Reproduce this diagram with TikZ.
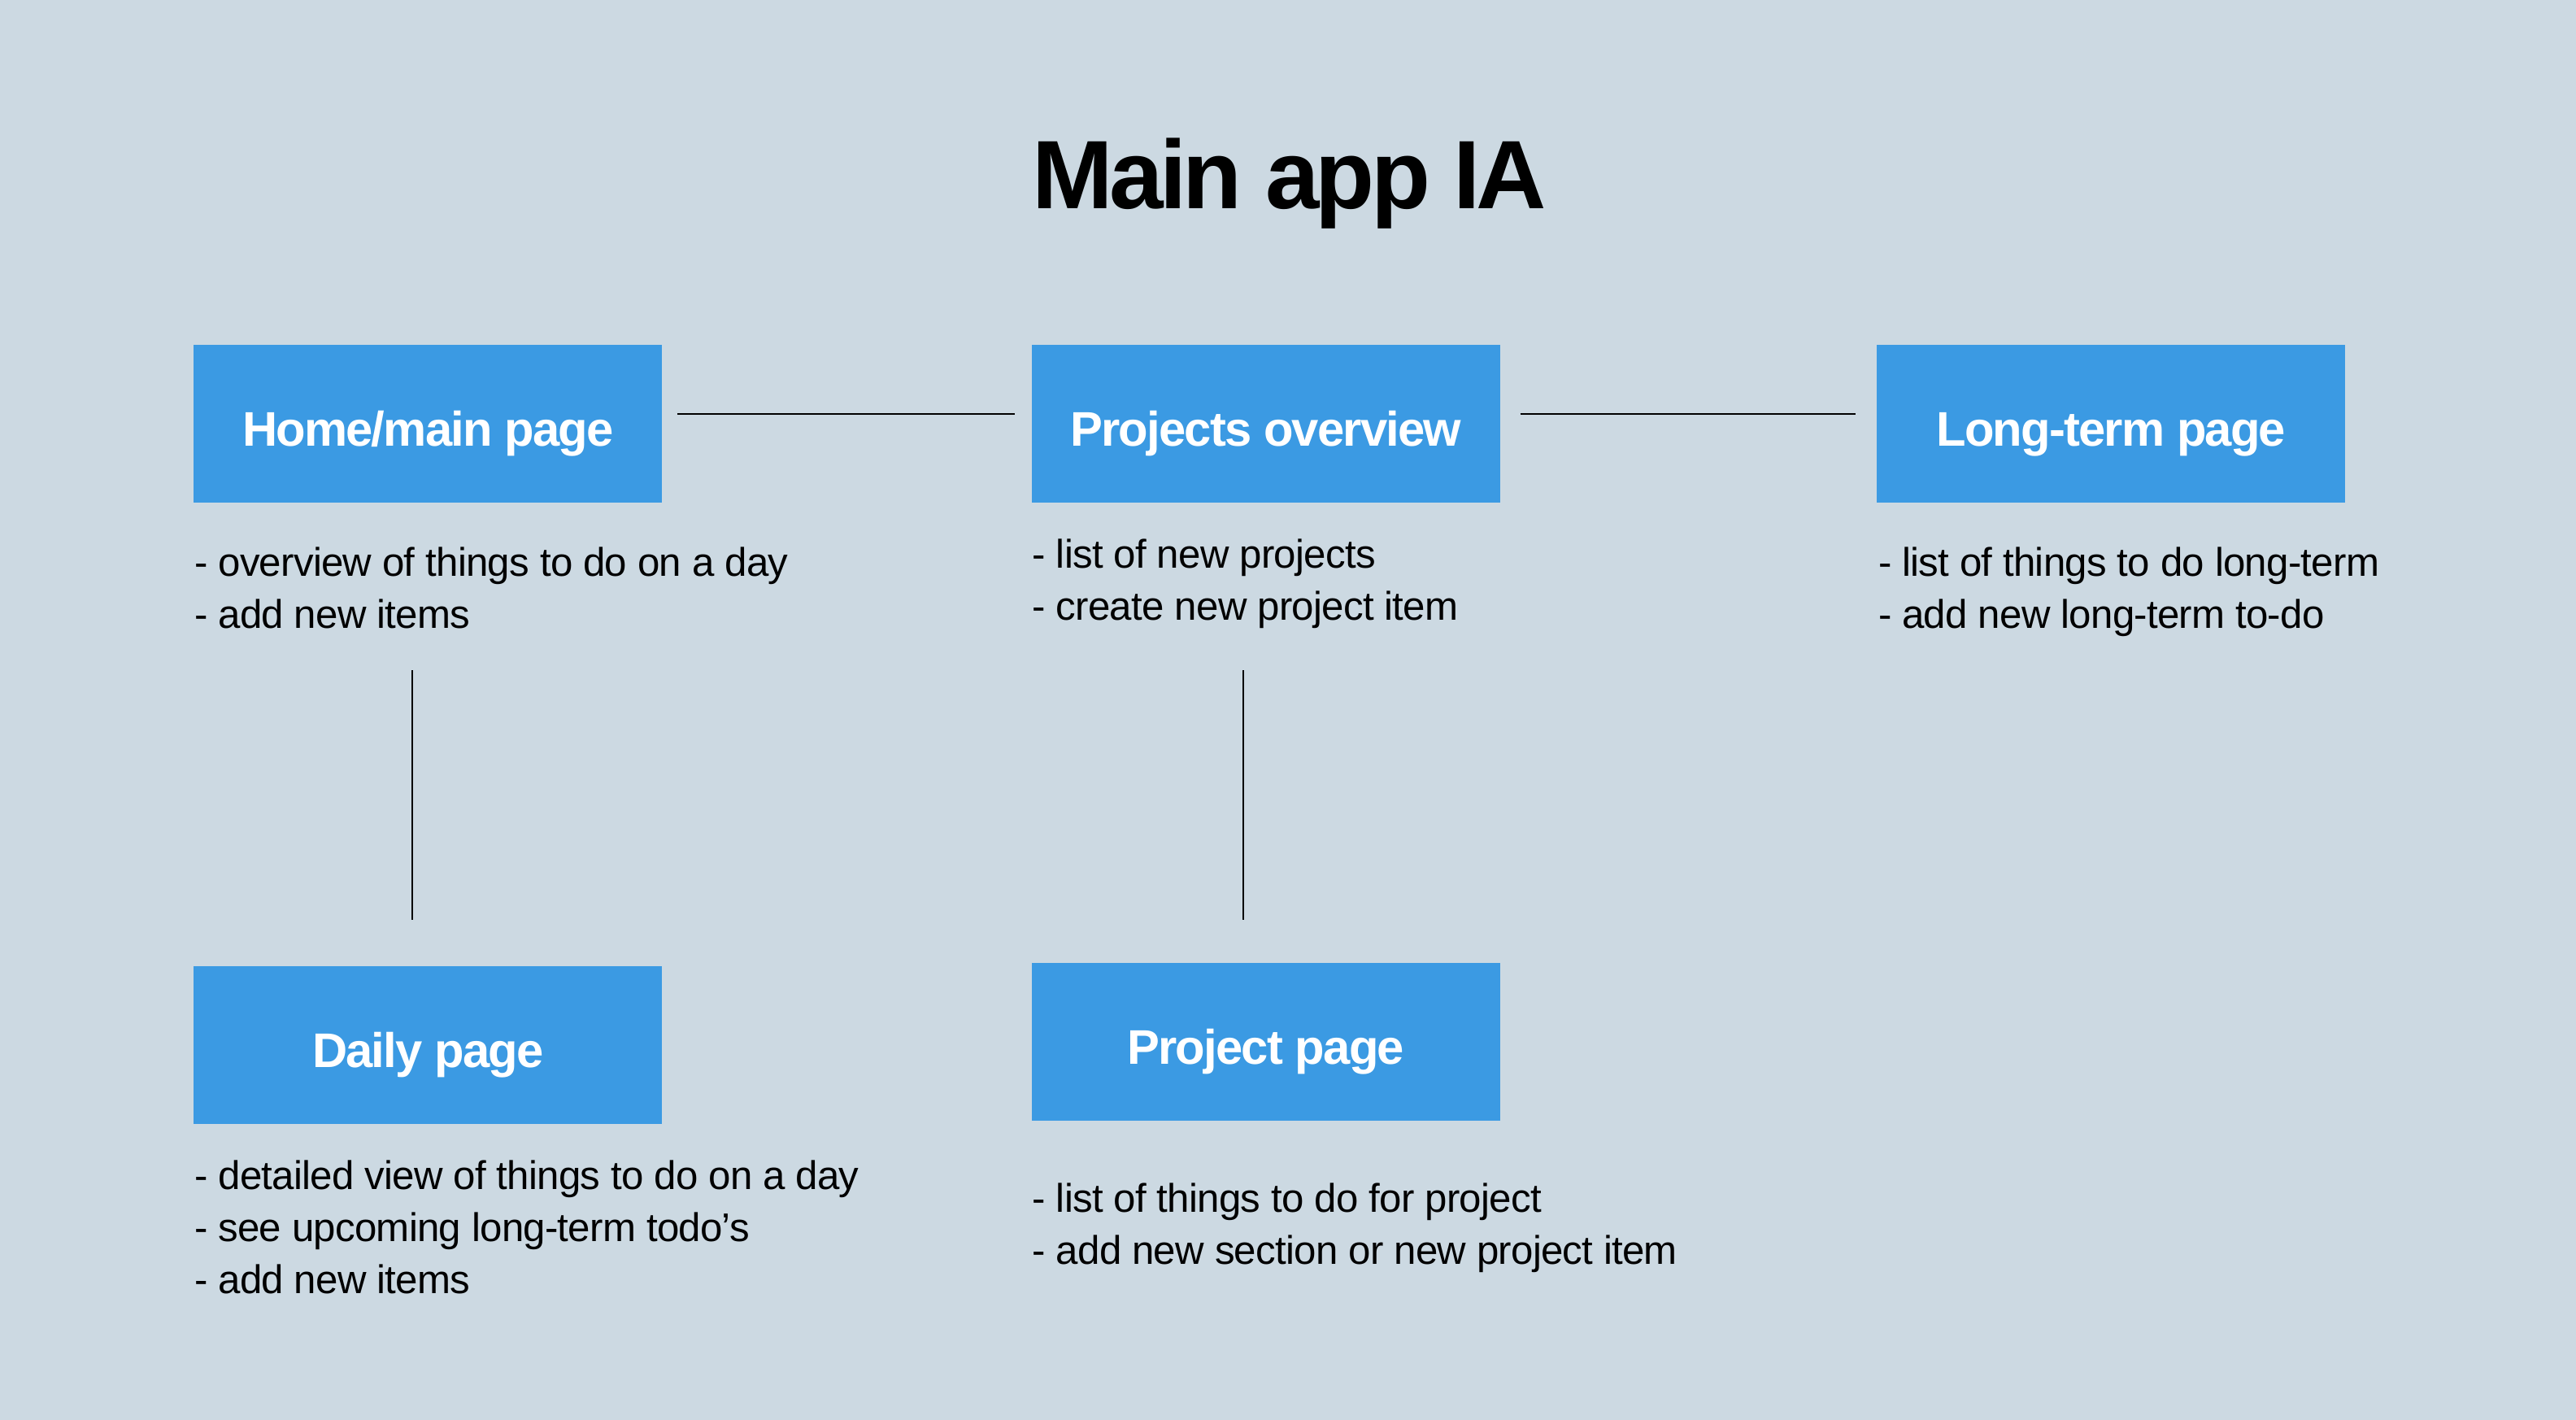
\documentclass[tikz,border=0pt]{standalone}
\usepackage{fontspec}
\setmainfont{Liberation Sans}
\newfontfamily\boxfont[LetterSpace=-3]{Liberation Sans}
\newfontfamily\titlefont[LetterSpace=-4]{Liberation Sans}
\newfontfamily\notefont[LetterSpace=-1.5]{Liberation Sans}
\usetikzlibrary{positioning,calc}
\definecolor{bgcolor}{RGB}{204,217,226}
\definecolor{boxblue}{RGB}{59,154,227}
\begin{document}
\begin{tikzpicture}[
  pagebox/.style={fill=boxblue, text=white, minimum width=5.758cm, minimum height=1.94cm, inner sep=0pt,
    text height=15.6pt, text depth=0pt, font=\boxfont\bfseries\fontsize{17}{20}\selectfont},
  notes/.style={anchor=base west, align=left, inner sep=0pt, font=\notefont\fontsize{14}{18.2}\selectfont},
  link/.style={draw=black, line width=0.6pt}
]
\fill[bgcolor] (0,0) rectangle (31.68,-17.46);
\node[anchor=base, inner sep=0pt, font=\titlefont\bfseries\fontsize{34}{40}\selectfont] (title) at (15.86,-2.566) {Main app IA};
% page boxes
\node[pagebox] (home) at (5.263,-5.213) {Home/main page};
\node[pagebox] (overview) at (15.567,-5.213) {Projects overview};
\node[pagebox] (longterm) at (25.962,-5.213) {Long-term page};
\node[pagebox] (daily) at (5.263,-12.85) {Daily page};
\node[pagebox] (project) at (15.567,-12.81) {Project page};
% notes under the boxes (placed by the baseline of their last line)
\node[notes] (homenotes) at (2.384,-7.72) {- overview of things to do on a day\\- add new items};
\node[notes] (overviewnotes) at (12.688,-7.62) {- list of new projects\\- create new project item};
\node[notes] (longtermnotes) at (23.093,-7.72) {- list of things to do long-term\\- add new long-term to-do};
\node[notes] (dailynotes) at (2.384,-15.90) {- detailed view of things to do on a day\\- see upcoming long-term todo’s\\- add new items};
\node[notes] (projectnotes) at (12.688,-15.54) {- list of things to do for project\\- add new section or new project item};
% links
\draw[link, shorten <=0.18cm, shorten >=0.2cm] ([yshift=1.2mm]home.east) -- ([yshift=1.2mm]overview.west);
\draw[link, shorten <=0.244cm, shorten >=0.26cm] ([yshift=1.2mm]overview.east) -- ([yshift=1.2mm]longterm.west);
\coordinate (homedown) at (5.071,-8.243);
\coordinate (overviewdown) at (15.294,-8.243);
\draw[link, shorten >=0.566cm] (homedown) -- (homedown |- daily.north);
\draw[link, shorten >=0.526cm] (overviewdown) -- (overviewdown |- project.north);
\end{tikzpicture}
\end{document}
